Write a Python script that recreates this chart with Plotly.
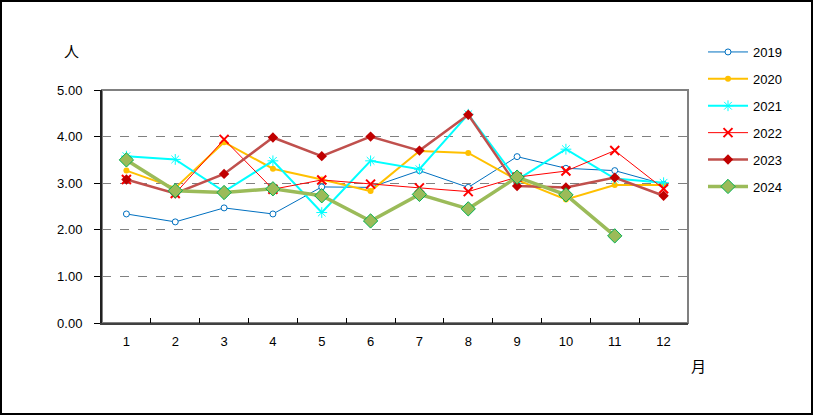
import plotly.graph_objects as go

months = ["1", "2", "3", "4", "5", "6", "7", "8", "9", "10", "11", "12"]
y2019 = [2.34, 2.17, 2.47, 2.34, 2.92, 2.91, 3.27, 2.91, 3.57, 3.32, 3.27, 2.98]
y2020 = [3.27, 2.90, 3.88, 3.31, 3.08, 2.83, 3.69, 3.65, 3.07, 2.65, 2.96, 2.96]
y2021 = [3.58, 3.51, 2.82, 3.48, 2.37, 3.48, 3.30, 4.48, 3.07, 3.73, 3.10, 3.01]
y2022 = [3.08, 2.78, 3.94, 2.87, 3.07, 2.98, 2.90, 2.82, 3.13, 3.26, 3.70, 2.88]
y2023 = [3.08, 2.78, 3.20, 3.98, 3.58, 4.00, 3.70, 4.47, 2.94, 2.91, 3.12, 2.73]
y2024 = [3.50, 2.84, 2.80, 2.88, 2.73, 2.19, 2.76, 2.45, 3.13, 2.75, 1.87, None]
yticks = [0, 1, 2, 3, 4, 5]

FONT = "Liberation Sans, Noto Sans CJK JP, sans-serif"

series = [
    ("2019", y2019, dict(color="#0070C0", width=1),
     dict(symbol="circle", size=6, color="white", line=dict(color="#0070C0", width=1))),
    ("2020", y2020, dict(color="#FFC000", width=2),
     dict(symbol="circle", size=6, color="#FFC000", line=dict(color="#FFC000", width=0))),
    ("2021", y2021, dict(color="#00FFFF", width=2),
     dict(symbol="asterisk-open", size=9, color="#00FFFF", line=dict(color="#00FFFF", width=1))),
    ("2022", y2022, dict(color="#FF0000", width=1),
     dict(symbol="x-thin-open", size=9, color="#FF0000", line=dict(color="#FF0000", width=2))),
    ("2023", y2023, dict(color="#C0504D", width=2.5),
     dict(symbol="diamond", size=8, color="#C00000", line=dict(color="#C00000", width=0))),
    ("2024", y2024, dict(color="#9BBB59", width=3.5),
     dict(symbol="diamond", size=11, color="#9BBB59", line=dict(color="#00B050", width=1))),
]

fig = go.Figure()
for name, ys, line, marker in series:
    fig.add_trace(go.Scatter(
        x=months, y=ys, name=name, mode="lines+markers",
        line=line, marker=marker, legendgroup=name, connectgaps=False,
    ))

L, R, T, B = 102, 126, 90, 94
W, H = 814, 417
pw, ph = W - L - R, H - T - B

def px(x):
    return (x - L) / pw

def py(y):
    return (H - B - y) / ph

fig.update_layout(
    width=W, height=H,
    margin=dict(l=L, r=R, t=T, b=B, pad=0),
    paper_bgcolor="white", plot_bgcolor="white",
    font=dict(family=FONT, size=13, color="black"),
    showlegend=True,
    legend=dict(
        x=px(703), y=py(37), xanchor="left", yanchor="top",
        font=dict(family=FONT, size=13, color="black"),
        tracegroupgap=7, bgcolor="rgba(0,0,0,0)", itemwidth=40,
    ),
    xaxis=dict(
        type="category", categoryorder="array", categoryarray=months,
        range=[-0.5, 11.5], autorange=False,
        tickson="boundaries", ticks="inside", ticklen=5, tickcolor="black",
        showline=True, linecolor="#404040", linewidth=2, mirror=False,
        showgrid=False, zeroline=False, ticklabelstandoff=5,
        tickfont=dict(family=FONT, size=13),
    ),
    yaxis=dict(
        range=[0, 5], tickvals=yticks, tickformat=".2f",
        ticks="outside", ticklen=6, tickcolor="black",
        showline=True, linecolor="#202020", linewidth=2, mirror=False,
        showgrid=True, gridcolor="#808080", griddash="dash", gridwidth=1,
        zeroline=False, ticklabelstandoff=9,
        tickfont=dict(family=FONT, size=13),
    ),
    shapes=[
        dict(type="rect", xref="paper", yref="paper", x0=0, x1=1, y0=0, y1=1,
             line=dict(color="#808080", width=2), layer="below"),
        dict(type="rect", xref="paper", yref="paper",
             x0=px(1), x1=px(812), y0=py(414), y1=py(1),
             line=dict(color="black", width=2)),
    ],
    annotations=[
        dict(text="人", xref="paper", yref="paper", x=px(71), y=py(50),
             xanchor="center", yanchor="middle",
             showarrow=False, font=dict(family="Noto Sans CJK JP", size=15)),
        dict(text="月", xref="paper", yref="paper", x=px(698), y=py(365),
             xanchor="center", yanchor="middle",
             showarrow=False, font=dict(family="Noto Sans CJK JP", size=15)),
    ],
)

fig.write_html("out.html")
